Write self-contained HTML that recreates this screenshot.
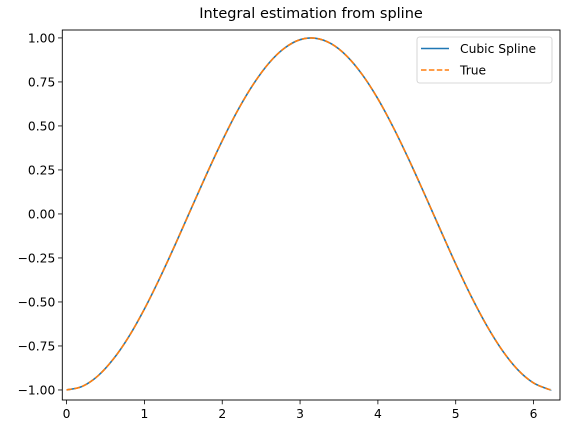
<!DOCTYPE html>
<html><head><meta charset="utf-8"><style>
body{margin:0;background:#fff;}
svg{display:block;font-family:"DejaVu Sans","Liberation Sans",sans-serif;}
</style></head><body>
<svg id="chart" width="568" height="433" viewBox="0 0 568 433">
<rect x="0" y="0" width="568" height="433" fill="#fff"/>
<text x="311" y="18" font-size="14.5" text-anchor="middle" fill="#000">Integral estimation from spline</text>
<g id="plot"></g>
</svg>
<script>
const xData=[0,0.2,0.4,0.6,0.8,1.0,1.2,1.4,1.6,1.8,2.0,2.2,2.4,2.6,2.8,3.0,3.2,3.4,3.6,3.8,4.0,4.2,4.4,4.6,4.8,5.0,5.2,5.4,5.6,5.8,6.0,6.2,6.22];
const splineY=[-1.00,-0.980,-0.921,-0.825,-0.697,-0.540,-0.362,-0.170,0.029,0.227,0.416,0.589,0.737,0.857,0.942,0.990,0.998,0.967,0.897,0.791,0.654,0.490,0.307,0.112,-0.087,-0.284,-0.469,-0.635,-0.776,-0.886,-0.960,-0.997,-0.998];
const trueY=[-1.00,-0.980,-0.921,-0.825,-0.697,-0.540,-0.362,-0.170,0.029,0.227,0.416,0.589,0.737,0.857,0.942,0.990,0.998,0.967,0.897,0.791,0.654,0.490,0.307,0.112,-0.087,-0.284,-0.469,-0.635,-0.776,-0.886,-0.960,-0.997,-0.998];
const xTicks=[0,1,2,3,4,5,6];
const yTicks=[-1,-0.75,-0.5,-0.25,0,0.25,0.5,0.75,1];
const yTickLabels=["\u22121.00","\u22120.75","\u22120.50","\u22120.25","0.00","0.25","0.50","0.75","1.00"];

const L=62.3,R=560,T=30,B=400;
const xMin=-0.055,xMax=6.34,yMin=-1.057,yMax=1.045;
const sx=v=>L+(v-xMin)/(xMax-xMin)*(R-L);
const sy=v=>B-(v-yMin)/(yMax-yMin)*(B-T);
const NS='http://www.w3.org/2000/svg';
const g=document.getElementById('plot');
function mk(t,a,p){const e=document.createElementNS(NS,t);for(const k in a)e.setAttribute(k,a[k]);(p||g).appendChild(e);return e;}
function pathFor(xs,ys){
  const P=xs.map((x,i)=>[sx(x),sy(ys[i])]);
  let d='M'+P[0][0].toFixed(2)+','+P[0][1].toFixed(2);
  for(let i=0;i<P.length-1;i++){
    const p0=P[i-1]||P[i],p1=P[i],p2=P[i+1],p3=P[i+2]||P[i+1];
    const c1=[p1[0]+(p2[0]-p0[0])/6,p1[1]+(p2[1]-p0[1])/6];
    const c2=[p2[0]-(p3[0]-p1[0])/6,p2[1]-(p3[1]-p1[1])/6];
    d+=' C'+c1.map(v=>v.toFixed(2))+' '+c2.map(v=>v.toFixed(2))+' '+p2.map(v=>v.toFixed(2));
  }
  return d;
}
xTicks.forEach(t=>{
  const x=sx(t);
  const tk=mk('line',{x1:x,x2:x,y1:B,y2:B+4.3,stroke:'#000','stroke-width':0.8});
  
  
  const lb=mk('text',{x:x,y:B+18,'font-size':12.3,'text-anchor':'middle',fill:'#000'});
  lb.textContent=String(t);
  
  
});
yTicks.forEach((t,i)=>{
  const y=sy(t);
  const tk=mk('line',{x1:L-4.3,x2:L,y1:y,y2:y,stroke:'#000','stroke-width':0.8});
  
  
  const lb=mk('text',{x:L-7,y:y+4.4,'font-size':12.3,'text-anchor':'end',fill:'#000'});
  lb.textContent=yTickLabels[i];
  
  
});
const s1=mk('path',{d:pathFor(xData,splineY),fill:'none',stroke:'#1f77b4','stroke-width':1.6});


const s2=mk('path',{d:pathFor(xData,trueY),fill:'none',stroke:'#ff7f0e','stroke-width':1.6,'stroke-dasharray':'5.5,2.4'});


const fr=mk('rect',{x:L,y:T,width:R-L,height:B-T,fill:'none',stroke:'#000','stroke-width':0.9});


const lg=mk('g',{});


mk('rect',{x:417,y:37,width:135,height:46,rx:2.5,fill:'#fff','fill-opacity':0.8,stroke:'#ccc','stroke-width':0.8},lg);
const e1=mk('line',{x1:421,x2:449,y1:48.5,y2:48.5,stroke:'#1f77b4','stroke-width':1.6},lg);


const t1=mk('text',{x:460,y:53,'font-size':12.3,fill:'#000'},lg);
t1.textContent='Cubic Spline';


const e2=mk('line',{x1:421,x2:449,y1:70,y2:70,stroke:'#ff7f0e','stroke-width':1.6,'stroke-dasharray':'5.5,2.4'},lg);


const t2=mk('text',{x:460,y:74.5,'font-size':12.3,fill:'#000'},lg);
t2.textContent='True';


</script>
</body></html>
